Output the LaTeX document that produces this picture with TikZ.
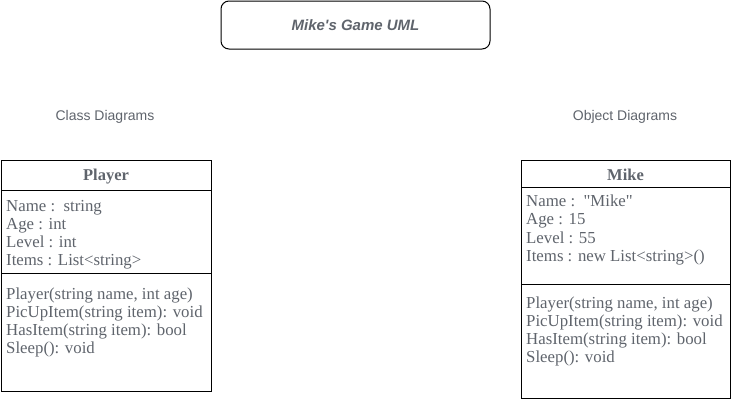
\documentclass[tikz,border=0pt]{standalone}
\usepackage{fontspec}
\setmainfont{Liberation Serif}[Ligatures=TeXOff]
\setsansfont{Liberation Sans}[Ligatures=TeXOff]
\definecolor{txtgray}{RGB}{95,100,108}
\tikzset{
  boxline/.style={draw=black, line width=1pt},
  attr/.style={anchor=base west, inner sep=0pt, text=txtgray, font=\fontsize{16.8}{18}\selectfont},
  cname/.style={anchor=base, inner sep=0pt, text=txtgray, font=\fontsize{16.5}{18}\selectfont\bfseries},
  lbl/.style={anchor=base, inner sep=0pt, text=txtgray, font=\sffamily\fontsize{14}{16}\selectfont},
}
\begin{document}
\begin{tikzpicture}[x=1pt,y=-1pt]
\useasboundingbox (0,0) rectangle (731,402);
% title
\draw[boxline, rounded corners=8pt] (221,1) rectangle (490,49);
\node[anchor=base, inner sep=0pt, text=txtgray, font=\sffamily\fontsize{15}{18}\selectfont\bfseries\itshape] (title) at (355.5,30.5) {Mike's Game UML};
\node[lbl] (cd) at (105,120) {Class Diagrams};
\node[lbl] (od) at (625,120) {Object Diagrams};
% Player class
\draw[boxline] (1,160) rectangle (211,391);
\draw[boxline] (1,190) -- (211,190);
\draw[boxline] (1,273) -- (211,273);
\node[cname] (pname) at (106,180.5) {Player};
\node[attr] (pa1) at (6,211) {Name :\ \ string};
\node[attr] (pa2) at (6,229) {Age : int};
\node[attr] (pa3) at (6,247) {Level : int};
\node[attr] (pa4) at (6,265) {Items : List<string>};
\node[attr] (pm1) at (6,299) {Player(string name, int age)};
\node[attr] (pm2) at (6,317) {PicUpItem(string item): void};
\node[attr] (pm3) at (6,335) {HasItem(string item): bool};
\node[attr] (pm4) at (6,353) {Sleep(): void};
% Mike object
\draw[boxline] (521,160) rectangle (730,398);
\draw[boxline] (521,187) -- (730,187);
\draw[boxline] (521,284) -- (730,284);
\node[cname] (mname) at (625.5,180.5) {Mike};
\node[attr] (ma1) at (526,206) {Name :\ \ "Mike"};
\node[attr] (ma2) at (526,224) {Age : 15};
\node[attr] (ma3) at (526,243) {Level : 55};
\node[attr] (ma4) at (526,261) {Items : new List<string>()};
\node[attr] (mm1) at (526,308) {Player(string name, int age)};
\node[attr] (mm2) at (526,326) {PicUpItem(string item): void};
\node[attr] (mm3) at (526,344) {HasItem(string item): bool};
\node[attr] (mm4) at (526,362) {Sleep(): void};
\end{tikzpicture}
\end{document}
